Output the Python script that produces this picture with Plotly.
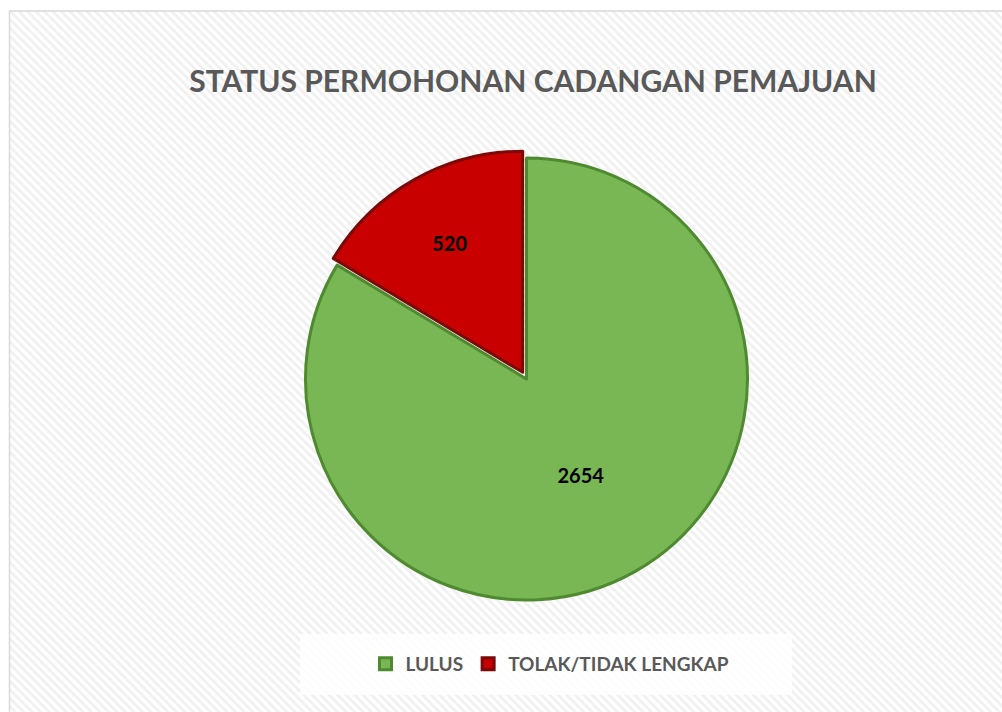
import plotly.graph_objects as go

# data
labels = ["LULUS", "TOLAK/TIDAK LENGKAP"]
values = [2654, 520]
colors = ["#78b754", "#c80000"]
edge_colors = ["#4f8a31", "#7a0a0a"]
pull = [0, 0.035]

title_text = "STATUS PERMOHONAN CADANGAN PEMAJUAN"

W, H = 1002, 712
font_family = "Lato, 'Open Sans', sans-serif"
gray = "#595959"

fig = go.Figure()

# striped background of the chart area (hidden cartesian bar)
fig.add_trace(go.Bar(
    x=[0], y=[1], width=[1],
    marker=dict(
        color="white",
        line=dict(width=0),
        pattern=dict(shape="\\", fgcolor="#f0f0f0", bgcolor="white",
                     size=6, solidity=0.45, fillmode="replace"),
    ),
    showlegend=False, hoverinfo="skip",
))

# pie sized/placed like the reference
cx, cy, r = 526.5, 379, 221
half = r * (1 + max(pull))
fig.add_trace(go.Pie(
    labels=labels,
    values=values,
    sort=False,
    direction="clockwise",
    rotation=0,
    pull=pull,
    marker=dict(colors=colors, line=dict(color=edge_colors, width=3)),
    textinfo="value",
    textposition="inside",
    insidetextorientation="horizontal",
    textfont=dict(family=font_family, size=20, color="black", weight="bold"),
    domain=dict(x=[(cx - half) / W, (cx + half) / W],
                y=[1 - (cy + half) / H, 1 - (cy - half) / H]),
    hoverinfo="label+value+percent",
))

fig.update_layout(
    width=W, height=H,
    margin=dict(l=0, r=0, t=0, b=0),
    paper_bgcolor="white",
    plot_bgcolor="white",
    xaxis=dict(domain=[10 / W, 1], range=[-0.5, 0.5], visible=False, fixedrange=True),
    yaxis=dict(domain=[0, 1 - 11 / H], range=[0, 1], visible=False, fixedrange=True),
    bargap=0,
    title=dict(
        text=title_text,
        x=533 / W, xanchor="center",
        y=1 - 81 / H, yanchor="middle",
        font=dict(family=font_family, size=30, color=gray, weight="bold"),
    ),
    legend=dict(
        orientation="h",
        x=550 / W, xanchor="center",
        y=1 - 664 / H, yanchor="middle",
        bgcolor="rgba(0,0,0,0)",
        font=dict(family=font_family, size=19, color=gray, weight="bold"),
        itemclick=False, itemdoubleclick=False,
    ),
    shapes=[
        # chart area border
        dict(type="rect", xref="paper", yref="paper",
             x0=9.5 / W, x1=1.01, y0=-0.01, y1=1 - 11 / H,
             line=dict(color="#d9d9d9", width=1.5), fillcolor="rgba(0,0,0,0)",
             layer="above"),
        # legend box
        dict(type="rect", xref="paper", yref="paper",
             x0=300 / W, x1=792 / W, y0=1 - 695 / H, y1=1 - 634 / H,
             line=dict(width=0), fillcolor="rgba(255,255,255,0.85)",
             layer="above"),
    ],
)

# drop the default 8px body margin so the figure sits at the page origin
fig.write_html("out.html", config={"displayModeBar": False},
               post_script="document.body.style.margin='0';")
